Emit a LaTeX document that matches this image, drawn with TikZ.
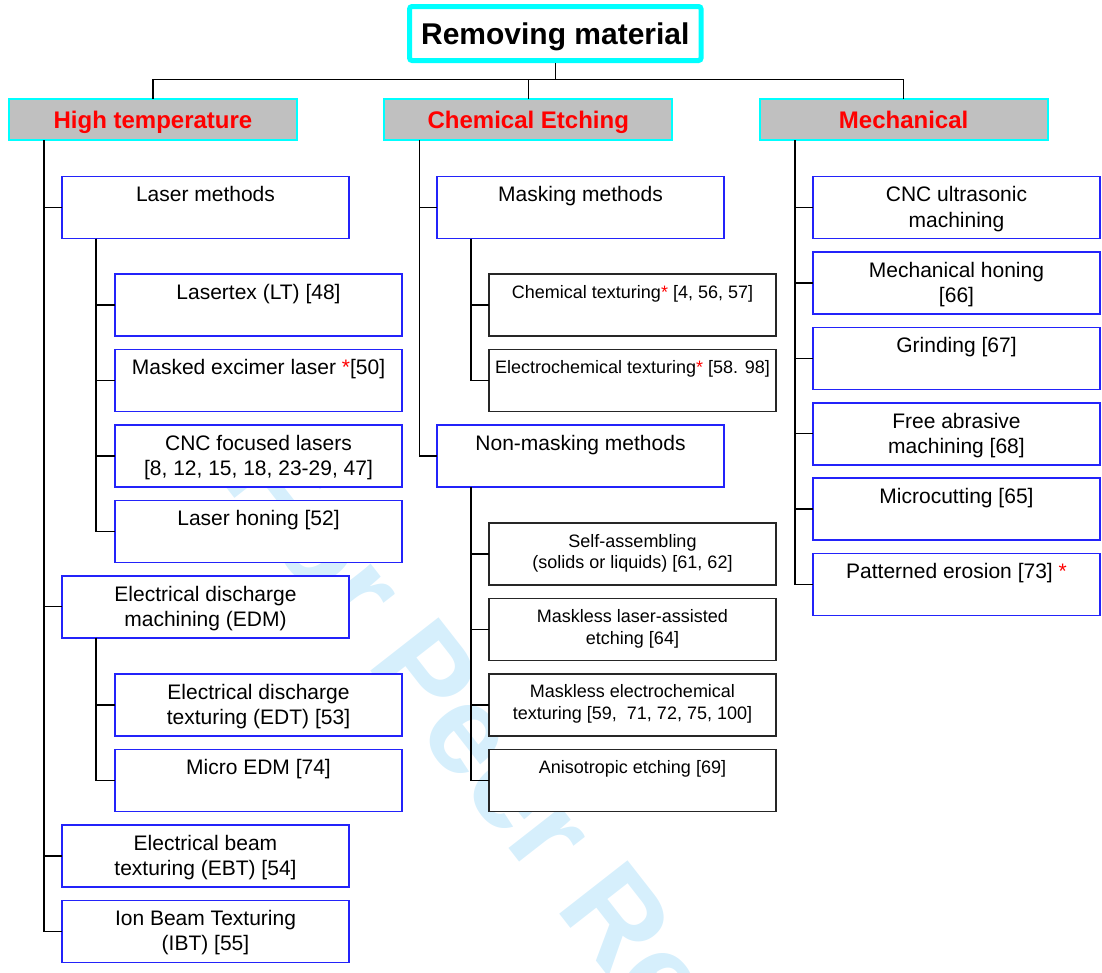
\documentclass[tikz,border=0pt]{standalone}
\usepackage{fontspec}
\setmainfont{Liberation Sans}
\definecolor{boxblue}{RGB}{35,35,250}
\definecolor{wmblue}{RGB}{214,239,252}
\definecolor{hdrgray}{RGB}{192,192,192}
\definecolor{cyanb}{RGB}{0,255,255}
\definecolor{redt}{RGB}{255,0,0}
\newcommand{\btxt}[1]{\parbox[c][62pt][t]{287pt}{\centering\fontsize{21}{25.3}\selectfont\rule{0pt}{25.3pt}#1\par}}
\newcommand{\stxt}[1]{\parbox[c][62pt][t]{287pt}{\centering\fontsize{18}{21.6}\selectfont\rule{0pt}{23.9pt}#1\par}}
\newcommand{\rs}{\textcolor{redt}{*}}
\tikzset{
  conn/.style={line width=1.3pt, draw=black},
  bluebox/.style={draw=boxblue, line width=1.6pt, fill=white, inner sep=0pt, outer sep=0pt, anchor=north west},
  blkbox/.style={draw=black!85, line width=1.6pt, fill=white, inner sep=0pt, outer sep=0pt, anchor=north west},
  hdr/.style={draw=cyanb, line width=2pt, fill=hdrgray, minimum width=288pt, minimum height=41.3pt, inner sep=0pt, outer sep=0pt, text=redt, font=\fontsize{24}{28}\selectfont\bfseries, text height=17.2pt, text depth=0pt},
  ttl/.style={draw=cyanb, line width=5pt, rounded corners=2.5pt, fill=white, minimum width=291.5pt, minimum height=54pt, inner sep=0pt, outer sep=0pt, font=\fontsize{30}{34}\selectfont\bfseries, text height=21.5pt, text depth=0pt},
  wmark/.style={rotate=-52, text=wmblue, inner sep=0pt, font=\fontsize{126}{130}\selectfont\bfseries}
}
\begin{document}
\begin{tikzpicture}[x=1pt,y=-1pt]
\useasboundingbox (0,0) rectangle (1102,972);
\begin{scope}
  \clip (0,0) rectangle (1102,972);
  \node[wmark] (wm) at (556,836) {For Peer Review};
\end{scope}

% title and level 1
\node[ttl] (title) at (555.3,33.5) {Removing material};
\node[hdr] (ht) at (153,119.4) {High temperature};
\node[hdr] (ce) at (528.3,119.4) {Chemical Etching};
\node[hdr] (me) at (903.6,119.4) {Mechanical};

% left column
\node[bluebox] (lm)   at (62,176.5)  {\btxt{Laser methods}};
\node[bluebox] (lt)   at (115,274.1) {\btxt{Lasertex (LT) [48]}};
\node[bluebox] (mel)  at (115,349.5) {\btxt{Masked excimer laser \rs[50]}};
\node[bluebox] (cfl)  at (115,424.9) {\btxt{CNC focused lasers\\{}[8, 12, 15, 18, 23-29, 47]}};
\node[bluebox] (lh)   at (115,500.3) {\btxt{Laser honing [52]}};
\node[bluebox] (edm)  at (62,575.7)  {\btxt{Electrical discharge\\machining (EDM)}};
\node[bluebox] (edt)  at (115,674.1) {\btxt{Electrical discharge\\texturing (EDT) [53]}};
\node[bluebox] (medm) at (115,749.5) {\btxt{Micro EDM [74]}};
\node[bluebox] (ebt)  at (62,824.9)  {\btxt{Electrical beam\\texturing (EBT) [54]}};
\node[bluebox] (ibt)  at (62,900.3)  {\btxt{Ion Beam Texturing\\(IBT) [55]}};

% middle column
\node[bluebox] (mm)  at (437,176.5) {\btxt{Masking methods}};
\node[blkbox]  (ct)  at (489,274.1) {\stxt{Chemical texturing\rs{} [4, 56, 57]}};
\node[blkbox]  (ect) at (489,349.5) {\stxt{Electrochemical texturing\rs{} [58. 98]}};
\node[bluebox] (nmm) at (437,424.9) {\btxt{Non-masking methods}};
\node[blkbox]  (sa)  at (489,523.1) {\stxt{Self-assembling\\(solids or liquids) [61, 62]}};
\node[blkbox]  (mla) at (489,598.5) {\stxt{Maskless laser-assisted\\etching [64]}};
\node[blkbox]  (mec) at (489,673.9) {\stxt{Maskless electrochemical\\texturing [59,\ \ 71, 72, 75, 100]}};
\node[blkbox]  (ae)  at (489,749.3) {\stxt{Anisotropic etching [69]}};

% right column
\node[bluebox] (cnc) at (813,176.5) {\btxt{CNC ultrasonic\\machining}};
\node[bluebox] (mh)  at (813,251.9) {\btxt{Mechanical honing\\{}[66]}};
\node[bluebox] (gr)  at (813,327.3) {\btxt{Grinding [67]}};
\node[bluebox] (fam) at (813,402.7) {\btxt{Free abrasive\\machining [68]}};
\node[bluebox] (mc)  at (813,478.1) {\btxt{Microcutting [65]}};
\node[bluebox] (pe)  at (813,553.5) {\btxt{Patterned erosion [73] \rs}};

% top connectors
\coordinate (bar) at (555.3,79.5);
\draw[conn, shorten <=2.5pt] (title.south) -- (bar);
\draw[conn] (ht.north) |- (bar) -| (me.north);
\draw[conn] (ce.north) -- (ce.north |- bar);

% left trunk
\coordinate (lt0) at ([xshift=35pt]ht.south west);
\foreach \n in {lm,edm,ebt,ibt} \draw[conn] (lt0) |- (\n.west);
\coordinate (ls1) at ([xshift=34pt]lm.south west);
\foreach \n in {lt,mel,cfl,lh} \draw[conn] (ls1) |- (\n.west);
\coordinate (ls2) at ([xshift=34pt]edm.south west);
\foreach \n in {edt,medm} \draw[conn] (ls2) |- (\n.west);

% middle trunk
\coordinate (mt0) at ([xshift=35pt]ce.south west);
\foreach \n in {mm,nmm} \draw[conn] (mt0) |- (\n.west);
\coordinate (ms1) at ([xshift=34pt]mm.south west);
\foreach \n in {ct,ect} \draw[conn] (ms1) |- (\n.west);
\coordinate (ms2) at ([xshift=34pt]nmm.south west);
\foreach \n in {sa,mla,mec,ae} \draw[conn] (ms2) |- (\n.west);

% right trunk
\coordinate (rt0) at ([xshift=35.4pt]me.south west);
\foreach \n in {cnc,mh,gr,fam,mc,pe} \draw[conn] (rt0) |- (\n.west);
\end{tikzpicture}
\end{document}
